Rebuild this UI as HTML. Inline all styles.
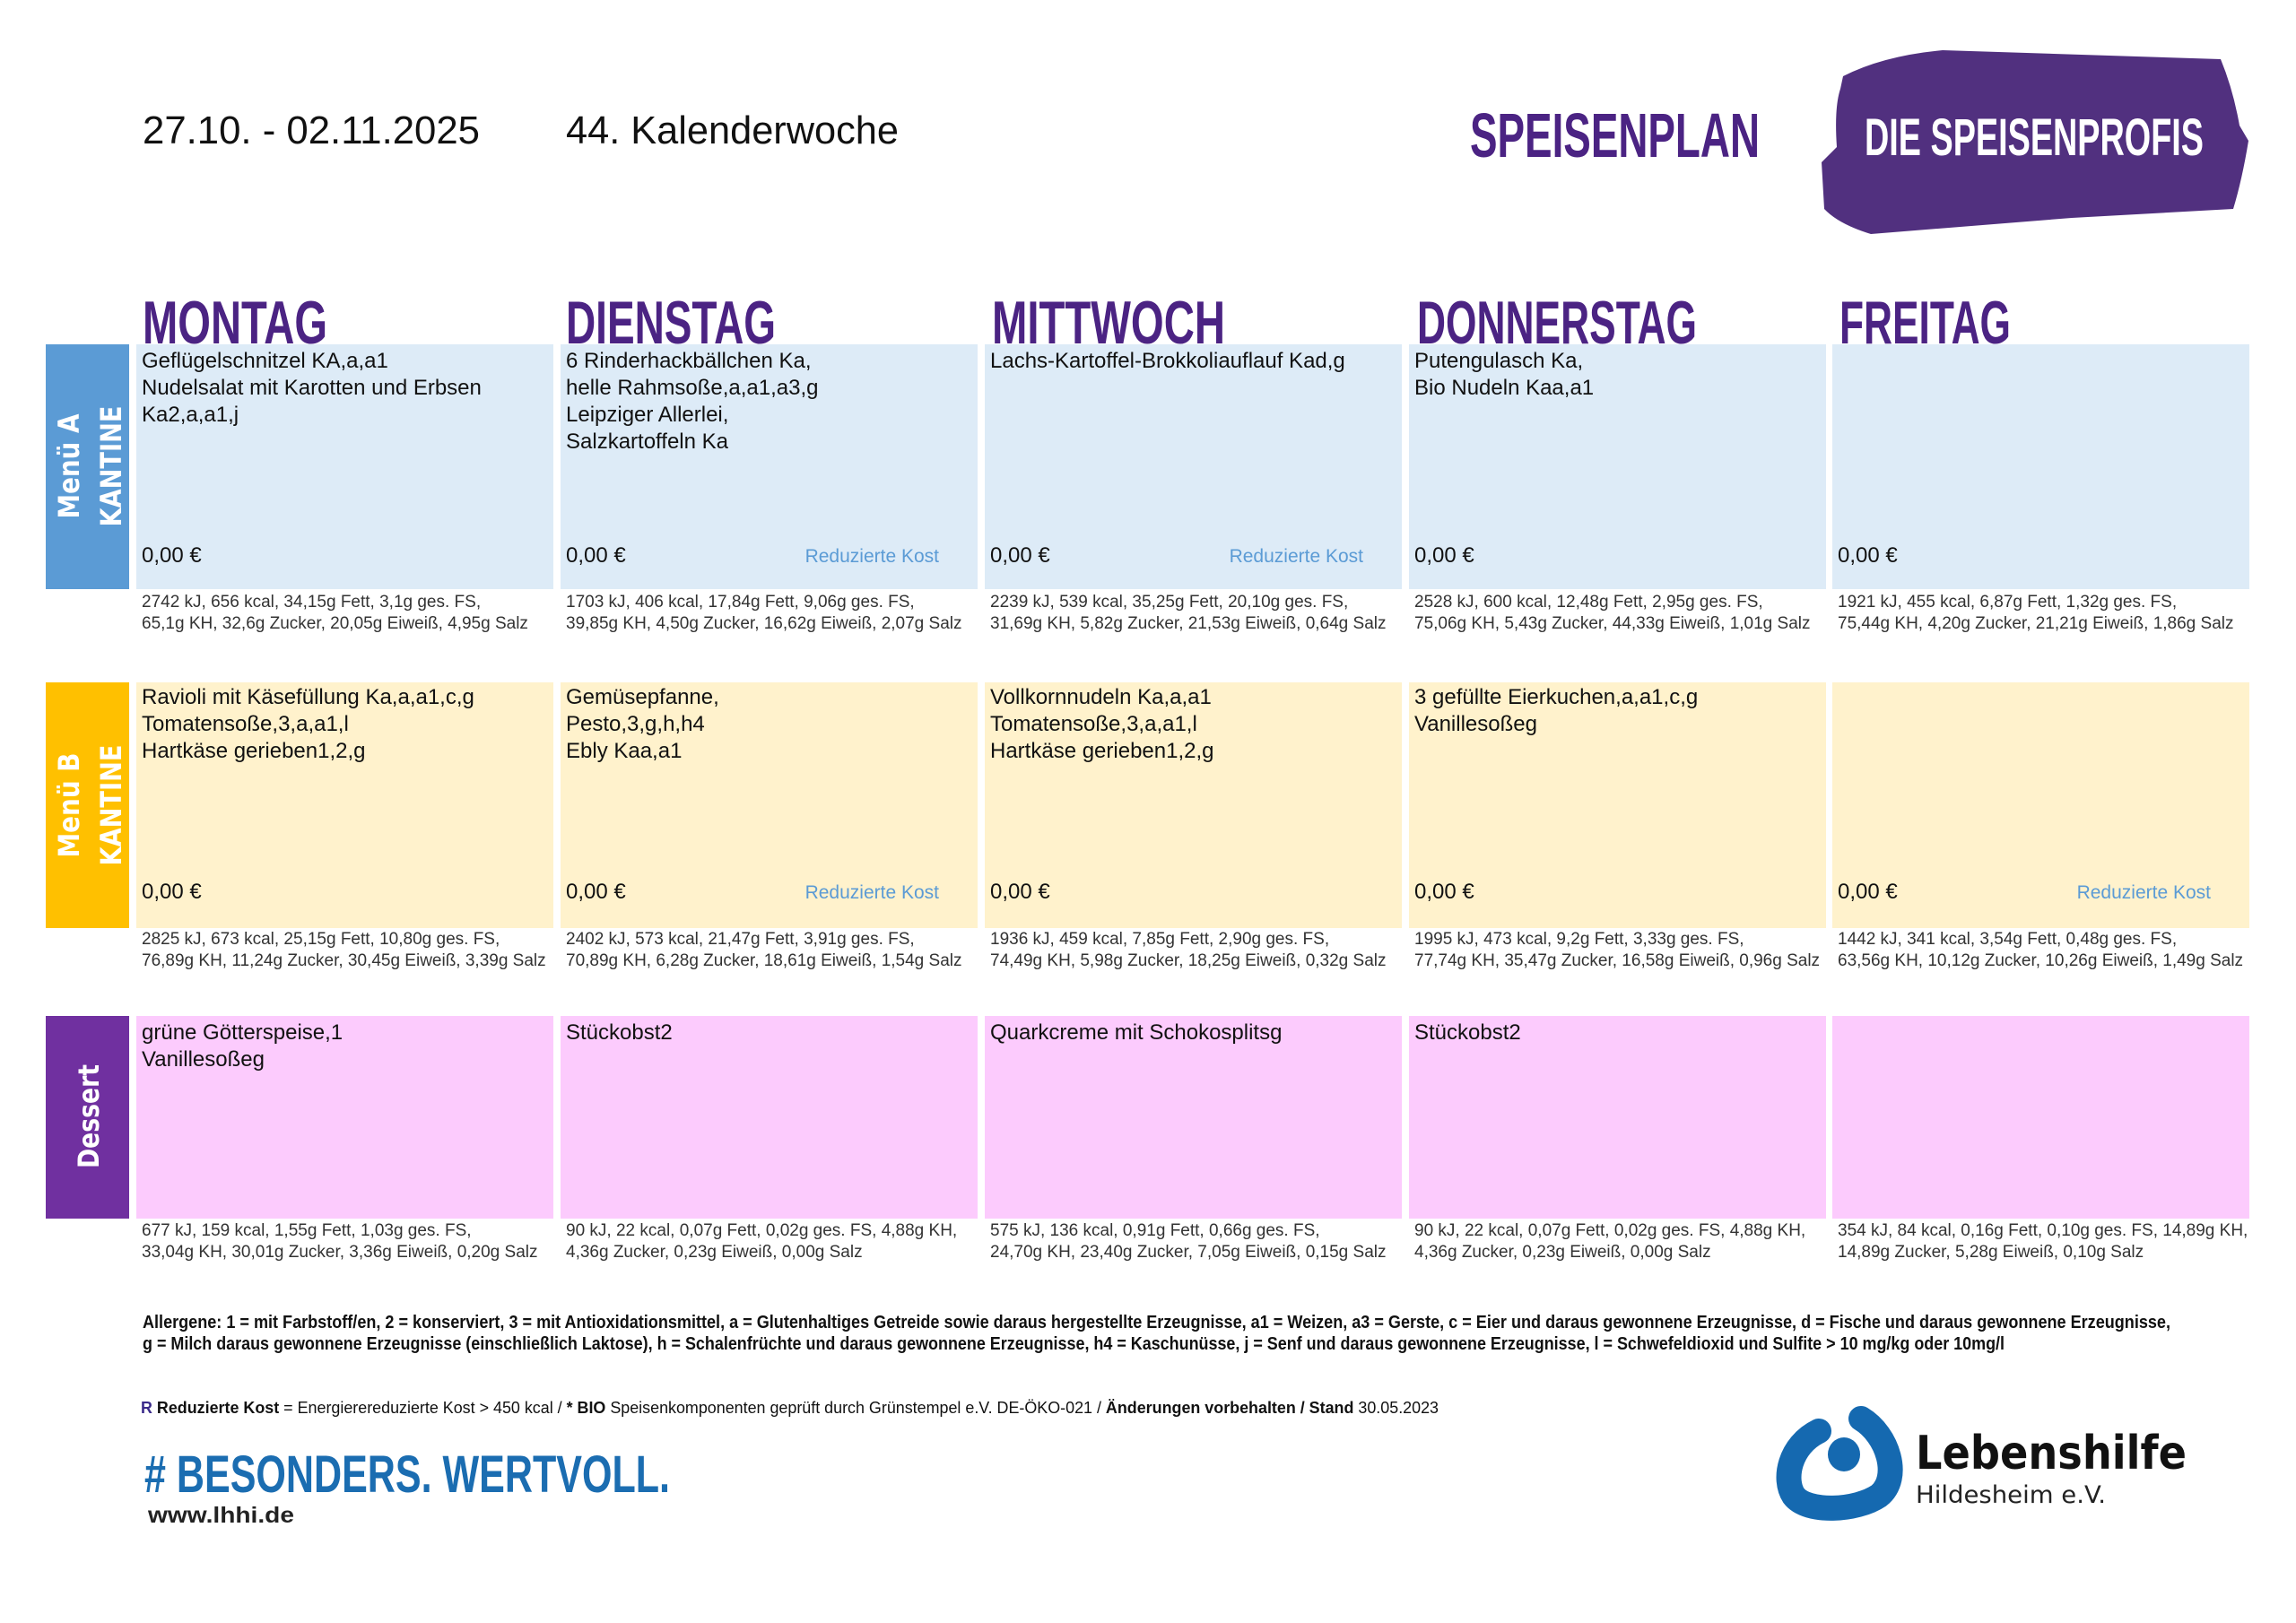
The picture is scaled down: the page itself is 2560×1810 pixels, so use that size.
<!DOCTYPE html>
<html><head><meta charset="utf-8"><style>
html,body{margin:0;padding:0;background:#fff}
svg{display:block}
.t{font-family:"Liberation Sans",Arial,sans-serif}
.n{font-family:"Liberation Sans Narrow","Liberation Sans",sans-serif}
</style></head><body>
<svg width="2560" height="1810" viewBox="0 0 2560 1810" xmlns="http://www.w3.org/2000/svg">
<rect width="2560" height="1810" fill="#fff"/>
<text class="t" x="159" y="160" font-size="44" fill="#111" textLength="376" lengthAdjust="spacingAndGlyphs">27.10. - 02.11.2025</text>
<text class="t" x="631" y="160" font-size="44" fill="#111" textLength="371" lengthAdjust="spacingAndGlyphs">44. Kalenderwoche</text>
<text class="n" x="1639" y="175" font-size="70" font-weight="bold" fill="#4b2383" textLength="323" lengthAdjust="spacingAndGlyphs">SPEISENPLAN</text>
<path d="M2055,85 Q2100,62 2166,56 L2476,66 Q2490,100 2497,140 L2507,157 Q2500,200 2490,233 L2310,243 L2086,261 Q2050,250 2034,233 L2031,181 L2048,164 Q2045,120 2052,99 Z" fill="#51307f"/>
<text class="n" x="2079" y="173" font-size="58" font-weight="bold" fill="#fff" textLength="378" lengthAdjust="spacingAndGlyphs">DIE SPEISENPROFIS</text>

<g class="n" font-size="68" font-weight="bold" fill="#4b2383">
<text x="159" y="383" textLength="206" lengthAdjust="spacingAndGlyphs">MONTAG</text>
<text x="631" y="383" textLength="234" lengthAdjust="spacingAndGlyphs">DIENSTAG</text>
<text x="1106" y="383" textLength="260" lengthAdjust="spacingAndGlyphs">MITTWOCH</text>
<text x="1580" y="383" textLength="312" lengthAdjust="spacingAndGlyphs">DONNERSTAG</text>
<text x="2051" y="383" textLength="191" lengthAdjust="spacingAndGlyphs">FREITAG</text>
</g>

<rect x="51" y="384" width="93" height="273" fill="#5b9bd5"/>
<rect x="51" y="761" width="93" height="274" fill="#ffc000"/>
<rect x="51" y="1133" width="93" height="226" fill="#7030a0"/>
<g font-family="'DejaVu Sans',sans-serif" font-weight="bold" fill="#fff" font-size="32">
<text transform="translate(88,520) rotate(-90)" text-anchor="middle" textLength="117" lengthAdjust="spacingAndGlyphs">Menü A</text>
<text transform="translate(135,520) rotate(-90)" text-anchor="middle" textLength="135" lengthAdjust="spacingAndGlyphs">KANTINE</text>
<text transform="translate(88,898) rotate(-90)" text-anchor="middle" textLength="117" lengthAdjust="spacingAndGlyphs">Menü B</text>
<text transform="translate(135,898) rotate(-90)" text-anchor="middle" textLength="135" lengthAdjust="spacingAndGlyphs">KANTINE</text>
<text transform="translate(110,1245) rotate(-90)" text-anchor="middle" textLength="116" lengthAdjust="spacingAndGlyphs">Dessert</text>
</g>

<g fill="#ddebf7">
<rect x="152" y="384" width="465" height="273"/><rect x="625" y="384" width="465" height="273"/><rect x="1098" y="384" width="465" height="273"/><rect x="1571" y="384" width="465" height="273"/><rect x="2043" y="384" width="465" height="273"/>
</g>
<g fill="#fff2cc">
<rect x="152" y="761" width="465" height="274"/><rect x="625" y="761" width="465" height="274"/><rect x="1098" y="761" width="465" height="274"/><rect x="1571" y="761" width="465" height="274"/><rect x="2043" y="761" width="465" height="274"/>
</g>
<g fill="#fccbfd">
<rect x="152" y="1133" width="465" height="226"/><rect x="625" y="1133" width="465" height="226"/><rect x="1098" y="1133" width="465" height="226"/><rect x="1571" y="1133" width="465" height="226"/><rect x="2043" y="1133" width="465" height="226"/>
</g>

<g class="t" font-size="24" fill="#111">
<text x="158" y="410">Geflügelschnitzel KA,a,a1</text>
<text x="158" y="440">Nudelsalat mit Karotten und Erbsen</text>
<text x="158" y="470">Ka2,a,a1,j</text>
<text x="631" y="410">6 Rinderhackbällchen Ka,</text>
<text x="631" y="440">helle Rahmsoße,a,a1,a3,g</text>
<text x="631" y="470">Leipziger Allerlei,</text>
<text x="631" y="500">Salzkartoffeln Ka</text>
<text x="1104" y="410">Lachs-Kartoffel-Brokkoliauflauf Kad,g</text>
<text x="1577" y="410">Putengulasch Ka,</text>
<text x="1577" y="440">Bio Nudeln Kaa,a1</text>
<text x="158" y="627">0,00 €</text><text x="631" y="627">0,00 €</text><text x="1104" y="627">0,00 €</text><text x="1577" y="627">0,00 €</text><text x="2049" y="627">0,00 €</text>
<text x="158" y="785">Ravioli mit Käsefüllung Ka,a,a1,c,g</text>
<text x="158" y="815">Tomatensoße,3,a,a1,l</text>
<text x="158" y="845">Hartkäse gerieben1,2,g</text>
<text x="631" y="785">Gemüsepfanne,</text>
<text x="631" y="815">Pesto,3,g,h,h4</text>
<text x="631" y="845">Ebly Kaa,a1</text>
<text x="1104" y="785">Vollkornnudeln Ka,a,a1</text>
<text x="1104" y="815">Tomatensoße,3,a,a1,l</text>
<text x="1104" y="845">Hartkäse gerieben1,2,g</text>
<text x="1577" y="785">3 gefüllte Eierkuchen,a,a1,c,g</text>
<text x="1577" y="815">Vanillesoßeg</text>
<text x="158" y="1002">0,00 €</text><text x="631" y="1002">0,00 €</text><text x="1104" y="1002">0,00 €</text><text x="1577" y="1002">0,00 €</text><text x="2049" y="1002">0,00 €</text>
<text x="158" y="1159">grüne Götterspeise,1</text>
<text x="158" y="1189">Vanillesoßeg</text>
<text x="631" y="1159">Stückobst2</text>
<text x="1104" y="1159">Quarkcreme mit Schokosplitsg</text>
<text x="1577" y="1159">Stückobst2</text>
</g>

<g class="t" font-size="21" fill="#5b9bd5" text-anchor="end">
<text x="1047" y="627">Reduzierte Kost</text>
<text x="1520" y="627">Reduzierte Kost</text>
<text x="1047" y="1002">Reduzierte Kost</text>
<text x="2465" y="1002">Reduzierte Kost</text>
</g>

<g class="t" font-size="19" fill="#333">
<text x="158" y="677">2742 kJ, 656 kcal, 34,15g Fett, 3,1g ges. FS,</text>
<text x="158" y="701">65,1g KH, 32,6g Zucker, 20,05g Eiweiß, 4,95g Salz</text>
<text x="631" y="677">1703 kJ, 406 kcal, 17,84g Fett, 9,06g ges. FS,</text>
<text x="631" y="701">39,85g KH, 4,50g Zucker, 16,62g Eiweiß, 2,07g Salz</text>
<text x="1104" y="677">2239 kJ, 539 kcal, 35,25g Fett, 20,10g ges. FS,</text>
<text x="1104" y="701">31,69g KH, 5,82g Zucker, 21,53g Eiweiß, 0,64g Salz</text>
<text x="1577" y="677">2528 kJ, 600 kcal, 12,48g Fett, 2,95g ges. FS,</text>
<text x="1577" y="701">75,06g KH, 5,43g Zucker, 44,33g Eiweiß, 1,01g Salz</text>
<text x="2049" y="677">1921 kJ, 455 kcal, 6,87g Fett, 1,32g ges. FS,</text>
<text x="2049" y="701">75,44g KH, 4,20g Zucker, 21,21g Eiweiß, 1,86g Salz</text>

<text x="158" y="1053">2825 kJ, 673 kcal, 25,15g Fett, 10,80g ges. FS,</text>
<text x="158" y="1077">76,89g KH, 11,24g Zucker, 30,45g Eiweiß, 3,39g Salz</text>
<text x="631" y="1053">2402 kJ, 573 kcal, 21,47g Fett, 3,91g ges. FS,</text>
<text x="631" y="1077">70,89g KH, 6,28g Zucker, 18,61g Eiweiß, 1,54g Salz</text>
<text x="1104" y="1053">1936 kJ, 459 kcal, 7,85g Fett, 2,90g ges. FS,</text>
<text x="1104" y="1077">74,49g KH, 5,98g Zucker, 18,25g Eiweiß, 0,32g Salz</text>
<text x="1577" y="1053">1995 kJ, 473 kcal, 9,2g Fett, 3,33g ges. FS,</text>
<text x="1577" y="1077">77,74g KH, 35,47g Zucker, 16,58g Eiweiß, 0,96g Salz</text>
<text x="2049" y="1053">1442 kJ, 341 kcal, 3,54g Fett, 0,48g ges. FS,</text>
<text x="2049" y="1077">63,56g KH, 10,12g Zucker, 10,26g Eiweiß, 1,49g Salz</text>

<text x="158" y="1378">677 kJ, 159 kcal, 1,55g Fett, 1,03g ges. FS,</text>
<text x="158" y="1402">33,04g KH, 30,01g Zucker, 3,36g Eiweiß, 0,20g Salz</text>
<text x="631" y="1378">90 kJ, 22 kcal, 0,07g Fett, 0,02g ges. FS, 4,88g KH,</text>
<text x="631" y="1402">4,36g Zucker, 0,23g Eiweiß, 0,00g Salz</text>
<text x="1104" y="1378">575 kJ, 136 kcal, 0,91g Fett, 0,66g ges. FS,</text>
<text x="1104" y="1402">24,70g KH, 23,40g Zucker, 7,05g Eiweiß, 0,15g Salz</text>
<text x="1577" y="1378">90 kJ, 22 kcal, 0,07g Fett, 0,02g ges. FS, 4,88g KH,</text>
<text x="1577" y="1402">4,36g Zucker, 0,23g Eiweiß, 0,00g Salz</text>
<text x="2049" y="1378">354 kJ, 84 kcal, 0,16g Fett, 0,10g ges. FS, 14,89g KH,</text>
<text x="2049" y="1402">14,89g Zucker, 5,28g Eiweiß, 0,10g Salz</text>
</g>

<g class="n" font-size="20" font-weight="bold" fill="#111">
<text x="159" y="1481" textLength="2261" lengthAdjust="spacingAndGlyphs">Allergene: 1 = mit Farbstoff/en, 2 = konserviert, 3 = mit Antioxidationsmittel, a = Glutenhaltiges Getreide sowie daraus hergestellte Erzeugnisse, a1 = Weizen, a3 = Gerste, c = Eier und daraus gewonnene Erzeugnisse, d = Fische und daraus gewonnene Erzeugnisse,</text>
<text x="159" y="1505" textLength="2076" lengthAdjust="spacingAndGlyphs">g = Milch daraus gewonnene Erzeugnisse (einschließlich Laktose), h = Schalenfrüchte und daraus gewonnene Erzeugnisse, h4 = Kaschunüsse, j = Senf und daraus gewonnene Erzeugnisse, l = Schwefeldioxid und Sulfite &gt; 10 mg/kg oder 10mg/l</text>
</g>
<text class="n" x="157" y="1576" font-size="18" fill="#111" textLength="1447" lengthAdjust="spacingAndGlyphs"><tspan fill="#3a2a8a" font-weight="bold">R</tspan>  <tspan font-weight="bold">Reduzierte Kost</tspan> = Energierereduzierte Kost &gt; 450 kcal / <tspan font-weight="bold">* BIO</tspan> Speisenkomponenten geprüft durch Grünstempel e.V. DE-ÖKO-021 / <tspan font-weight="bold">Änderungen vorbehalten / Stand</tspan> 30.05.2023</text>

<text class="n" x="161" y="1664" font-size="58" font-weight="bold" fill="#1b6db1" textLength="586" lengthAdjust="spacingAndGlyphs"># BESONDERS. WERTVOLL.</text>
<text class="t" x="165" y="1698" font-size="25" font-weight="bold" fill="#222" textLength="163" lengthAdjust="spacingAndGlyphs">www.lhhi.de</text>

<path d="M2028,1596 C1995,1612 1988,1650 2000,1668 C2015,1688 2070,1685 2095,1668 C2120,1648 2105,1600 2075,1582" fill="none" stroke="#1569b0" stroke-width="28" stroke-linecap="round"/>
<ellipse cx="2056" cy="1622" rx="18" ry="19" fill="#1569b0"/>
<text x="2136" y="1638" font-family="'DejaVu Sans','Liberation Sans',sans-serif" font-size="52" font-weight="bold" fill="#111" textLength="302" lengthAdjust="spacingAndGlyphs">Lebenshilfe</text>
<text x="2136" y="1676" font-family="'DejaVu Sans','Liberation Sans',sans-serif" font-size="27" fill="#222" textLength="212" lengthAdjust="spacingAndGlyphs">Hildesheim e.V.</text>
</svg>
</body></html>
